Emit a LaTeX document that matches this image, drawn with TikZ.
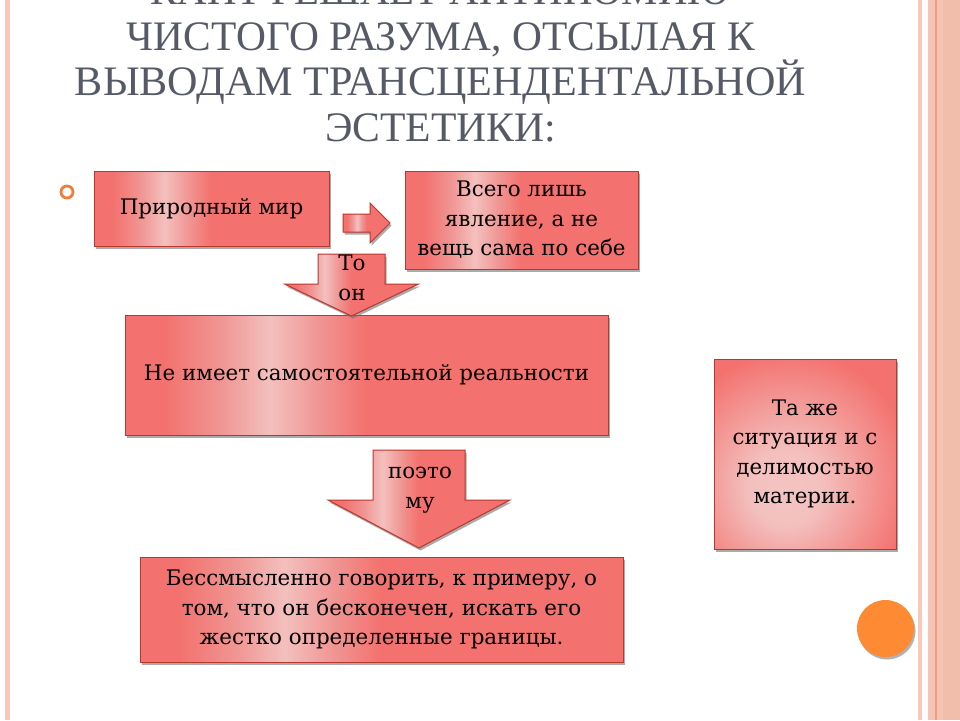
\documentclass[tikz,border=0pt]{standalone}
\usepackage{fontspec}
\setmainfont{DejaVu Serif}
\newfontfamily\ttlfont{Liberation Serif}
\usetikzlibrary{shadows}
\definecolor{bred}{RGB}{243,113,110}
\definecolor{bredl}{RGB}{240,150,148}
\definecolor{bpink}{RGB}{243,192,190}
\definecolor{bglow}{RGB}{244,196,194}
\definecolor{bborder}{RGB}{185,55,45}
\definecolor{titlegray}{RGB}{85,90,102}
\definecolor{frameA}{RGB}{250,200,184}
\definecolor{frameB}{RGB}{242,190,172}
\definecolor{frameC}{RGB}{238,158,126}
\definecolor{frameD}{RGB}{244,196,180}
\definecolor{bulletor}{RGB}{240,125,58}
\definecolor{circor}{RGB}{255,138,52}
\pgfdeclarehorizontalshading{glossy}{100bp}{color(0bp)=(bred); color(29bp)=(bred); color(35bp)=(bredl); color(40bp)=(bpink); color(45bp)=(bredl); color(50bp)=(bred); color(100bp)=(bred)}
\pgfdeclareradialshading{glow}{\pgfpoint{-6bp}{-10bp}}{color(0bp)=(bglow); color(10bp)=(bpink); color(34bp)=(bred); color(100bp)=(bred)}
\tikzset{
  shad/.style={drop shadow={shadow xshift=1.5pt, shadow yshift=-2.5pt, fill=black!55, opacity=0.6}},
  box/.style={draw=bborder, line width=1pt, shading=glossy, shading angle=0, shad,
    font=\fontsize{21.4}{29.5}\selectfont, align=center, inner sep=0pt, text=black},
  glowbox/.style={box, shading=glow},
  arr/.style={draw=bborder, line width=1pt, shading=glossy, shading angle=0, shad},
  lbl/.style={font=\fontsize{21.4}{29.5}\selectfont, align=center, inner sep=0pt, text=black},
  ttl/.style={font=\ttlfont\fontsize{42}{46}\selectfont, text=titlegray, anchor=base, inner sep=0pt}
}
\begin{document}
\begin{tikzpicture}[x=1pt,y=-1pt]
\useasboundingbox (0,0) rectangle (960,720);
\clip (0,0) rectangle (960,720);
\fill[white] (0,0) rectangle (960,720);
% frame
\fill[frameA] (5,0) rectangle (10,720);
\fill[frameA] (918,0) rectangle (922,720);
\fill[frameB] (928,0) rectangle (960,720);
\fill[frameD] (928,0) rectangle (935,720);
\fill[frameC] (935,0) rectangle (937,720);
\fill[frameD!80!frameB] (937,0) rectangle (943,720);
% title
\node[ttl] (t1) at (440,5) {\resizebox{579pt}{\height}{КАНТ РЕШАЕТ АНТИНОМИЮ}};
\node[ttl] (t2) at (441,50) {\resizebox{628pt}{\height}{ЧИСТОГО РАЗУМА, ОТСЫЛАЯ К}};
\node[ttl] (t3) at (440.5,95) {\resizebox{731pt}{\height}{ВЫВОДАМ ТРАНСЦЕНДЕНТАЛЬНОЙ}};
\node[ttl] (t4) at (440.5,141) {\resizebox{231pt}{\height}{ЭСТЕТИКИ:}};
% bullet
\draw[bulletor, line width=2.8pt] (67,192) circle (6pt);
% boxes
\node[box, minimum width=235pt, minimum height=75pt] (b1) at (211.5,208.5) {Природный мир};
\node[box, minimum width=233pt, minimum height=98pt] (b2) at (521.5,220) {Всего лишь\\явление, а не\\вещь сама по себе};
\node[box, minimum width=483pt, minimum height=120pt] (b3) at (366.5,375) {Не имеет самостоятельной реальности};
\node[box, minimum width=483pt, minimum height=105pt] (b4) at (381.5,609.5) {Бессмысленно говорить, к примеру, о\\том, что он бесконечен, искать его\\жестко определенные границы.};
\node[glowbox, minimum width=182pt, minimum height=190pt] (b5) at (805,454) {Та же\\ситуация и с\\делимостью\\материи.};
% block arrows
\path[arr] (343,214) -- (370,214) -- (370,203) -- (390,223) -- (370,243) -- (370,232) -- (343,232) -- cycle;
\path[arr] (318,254) -- (385,254) -- (385,284) -- (418.5,284) -- (351.5,316) -- (284.5,284) -- (318,284) -- cycle;
\path[arr] (373,450) -- (465,450) -- (465,500) -- (510,500) -- (419,548) -- (328,500) -- (373,500) -- cycle;
\node[lbl] (l1) at (352,278) {То\\он};
\node[lbl] (l2) at (420,490) {поэто\\му};
% orange circle
\fill[circor, drop shadow={shadow xshift=1.5pt, shadow yshift=-2.5pt, fill=black!60, opacity=0.5}] (885.5,628.5) circle (28.5pt);
\end{tikzpicture}
\end{document}
